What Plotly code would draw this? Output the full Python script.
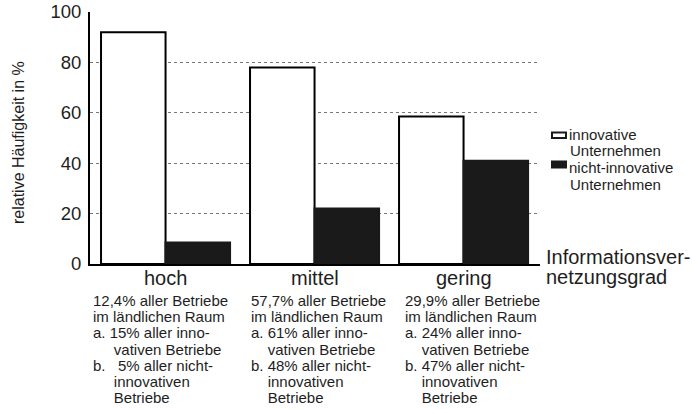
import plotly.graph_objects as go

# ---- data ----
categories = ["hoch", "mittel", "gering"]
series_names = ["innovative Unternehmen", "nicht-innovative Unternehmen"]
legend_lines = [["innovative", "Unternehmen"], ["nicht-innovative", "Unternehmen"]]
innovative = [92, 78, 58.5]
nicht_innovative = [8.5, 22, 41]
y_ticks = [0, 20, 40, 60, 80, 100]
y_title = "relative Häufigkeit in %"
x_title_lines = ["Informationsver-", "netzungsgrad"]
NB = "\u00a0"
notes = [
    ["12,4% aller Betriebe", "im ländlichen Raum", "a. 15% aller inno-",
     NB * 5 + "vativen Betriebe", "b." + NB * 2 + " 5% aller nicht-", NB * 5 + "innovativen", NB * 5 + "Betriebe"],
    ["57,7% aller Betriebe", "im ländlichen Raum", "a. 61% aller inno-",
     NB * 4 + "vativen Betriebe", "b. 48% aller nicht-", NB * 4 + "innovativen", NB * 4 + "Betriebe"],
    ["29,9% aller Betriebe", "im ländlichen Raum", "a. 24% aller inno-",
     NB * 4 + "vativen Betriebe", "b. 47% aller nicht-", NB * 4 + "innovativen", NB * 4 + "Betriebe"],
]

# ---- layout geometry (pixels) ----
W, H = 692, 409
L, R, T, B = 90, 152, 12, 145
PW, PH = W - L - R, H - T - B


def px(x):
    return (x - L) / PW


def py(y):
    return (H - B - y) / PH


FONT = "Liberation Sans, Arial, Helvetica, sans-serif"
TXT = "#1e1e1e"

fig = go.Figure()
fig.add_trace(go.Bar(x=categories, y=innovative, name=series_names[0],
                     marker=dict(color="white", line=dict(color="black", width=2))))
fig.add_trace(go.Bar(x=categories, y=nicht_innovative, name=series_names[1],
                     marker=dict(color="#1a1a1a", line=dict(color="#1a1a1a", width=2))))

annotations = []
# category labels (placed on the category axis positions)
for c in categories:
    annotations.append(dict(x=c, xref="x", y=py(278), yref="paper", text=c, showarrow=False,
                            xanchor="center", yanchor="middle",
                            font=dict(size=20, color=TXT, family=FONT)))
# y-axis title
annotations.append(dict(x=px(19), y=py(143), xref="paper", yref="paper", text=y_title,
                        textangle=-90, showarrow=False, xanchor="center", yanchor="middle",
                        font=dict(size=16, color=TXT, family=FONT)))
# x-axis title
for txt, yy in zip(x_title_lines, [257, 277]):
    annotations.append(dict(x=px(544), y=py(yy), xref="paper", yref="paper", text=txt,
                            xanchor="left", yanchor="middle", showarrow=False,
                            font=dict(size=20, color=TXT, family=FONT)))
# notes under categories
col_left = [92, 250, 404]
line_y = [300.5, 316.7, 332.9, 349.1, 365.3, 381.5, 397.7]
for i, lines in enumerate(notes):
    for j, txt in enumerate(lines):
        annotations.append(dict(x=px(col_left[i]), y=py(line_y[j]), xref="paper", yref="paper",
                                text=txt, xanchor="left", yanchor="middle", showarrow=False,
                                borderpad=0,
                                font=dict(size=15, color=TXT, family=FONT)))
# manual legend
shapes = []
box_y = [(132.5, 138), (161.5, 167.5)]
box_fill = ["white", "#1a1a1a"]
leg_text_y = [[134.5, 150.7], [167.8, 184]]
for k in range(2):
    shapes.append(dict(type="rect", xref="paper", yref="paper",
                       x0=px(552), x1=px(566), y0=py(box_y[k][0]), y1=py(box_y[k][1]),
                       fillcolor=box_fill[k], line=dict(color="#1a1a1a", width=2)))
    for t, txt in enumerate(legend_lines[k]):
        annotations.append(dict(x=px(568 if t == 0 else 569), y=py(leg_text_y[k][t]),
                                xref="paper", yref="paper", text=txt, xanchor="left",
                                yanchor="middle", showarrow=False, borderpad=0,
                                font=dict(size=15, color=TXT, family=FONT)))

fig.update_layout(
    width=W, height=H,
    margin=dict(l=L, r=R, t=T, b=B, autoexpand=False),
    paper_bgcolor="white", plot_bgcolor="white",
    barmode="group", bargap=0.134, bargroupgap=0,
    showlegend=False,
    font=dict(family=FONT, color=TXT),
    annotations=annotations, shapes=shapes,
)
fig.update_xaxes(range=[-0.507, 2.513], showline=True, linecolor="black", linewidth=2,
                 ticks="", showticklabels=False,
                 showgrid=False, zeroline=False, fixedrange=True)
fig.update_yaxes(range=[0, 100], tickvals=y_ticks, showline=True, linecolor="black", linewidth=2,
                 ticks="", ticklabelstandoff=3, tickfont=dict(size=18.5, family=FONT, color=TXT),
                 showgrid=True, gridcolor="#777", gridwidth=1, griddash="dot",
                 zeroline=False, fixedrange=True)

fig.write_html("out.html", config={"displayModeBar": False},
               post_script="document.body.style.margin='0';document.body.style.overflow='hidden';")
